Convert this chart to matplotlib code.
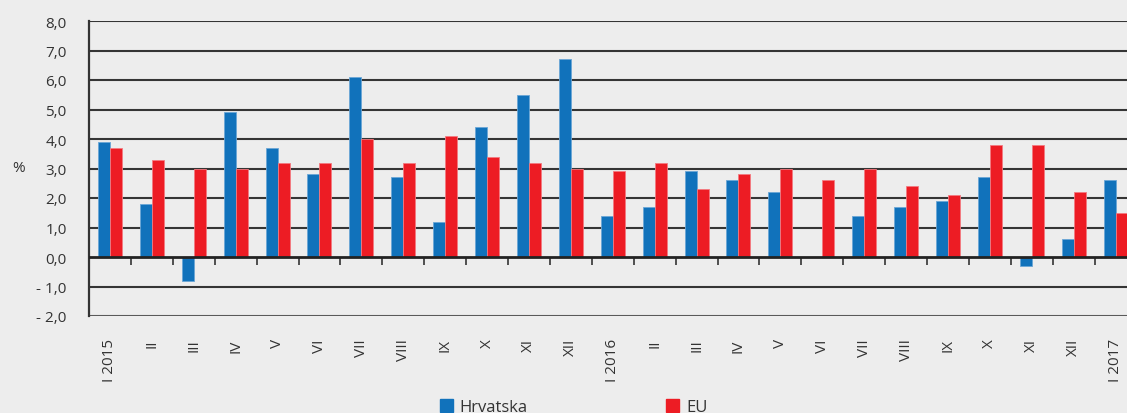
import numpy as np
import matplotlib
matplotlib.use("Agg")
import matplotlib.pyplot as plt
from matplotlib.patches import Patch

plt.rcParams['font.family'] = ['Open Sans', 'DejaVu Sans']

months = ["I 2015", "II", "III", "IV", "V", "VI", "VII", "VIII", "IX", "X", "XI", "XII",
          "I 2016", "II", "III", "IV", "V", "VI", "VII", "VIII", "IX", "X", "XI", "XII",
          "I 2017"]
hrvatska = [3.9, 1.8, -0.8, 4.9, 3.7, 2.8, 6.1, 2.7, 1.2, 4.4, 5.5, 6.7,
            1.4, 1.7, 2.9, 2.6, 2.2, 0.0, 1.4, 1.7, 1.9, 2.7, -0.3, 0.6,
            2.6]
eu = [3.7, 3.3, 3.0, 3.0, 3.2, 3.2, 4.0, 3.2, 4.1, 3.4, 3.2, 3.0,
      2.9, 3.2, 2.3, 2.8, 3.0, 2.6, 3.0, 2.4, 2.1, 3.8, 3.8, 2.2,
      1.5]
yticks = [-2, -1, 0, 1, 2, 3, 4, 5, 6, 7, 8]
ylabels = ["- 2,0", "- 1,0", "0,0", "1,0", "2,0", "3,0", "4,0", "5,0", "6,0", "7,0", "8,0"]

bg = "#ededed"
blue = "#1172bb"
red = "#ed1c24"
txt = "#333333"

fig = plt.figure(figsize=(11.27, 4.14), dpi=100, facecolor=bg)
ax = fig.add_axes([89/1127, 97/414, 1047.5/1127, 295/414], facecolor=bg)

x = np.arange(len(months))
w = 0.286
ax.bar(x - w/2, hrvatska, w, color=blue, edgecolor="#6aa6d6", linewidth=0.6, zorder=3)
ax.bar(x + w/2, eu, w, color=red, edgecolor="#f47a80", linewidth=0.6, zorder=3)

ax.set_xlim(-0.5, len(months) - 0.5)
ax.set_ylim(-2, 8)

# horizontal grid
for v in yticks:
    if v == 0:
        continue
    ax.axhline(v, color="#353535" if v != -2 else "#5a5a5a", lw=1.5, zorder=1)
ax.axhline(0, color="#222222", lw=2.0, zorder=4)

for s in ["top", "right"]:
    ax.spines[s].set_visible(False)
ax.spines["left"].set_color("#333333")
ax.spines["left"].set_linewidth(1.6)
ax.spines["bottom"].set_position(("data", 0))
ax.spines["bottom"].set_visible(False)

ax.set_yticks(yticks)
ax.set_yticklabels(ylabels, fontsize=11, color=txt)
ax.tick_params(axis="y", length=0, pad=16)

# month boundary ticks on the zero line
ax.set_xticks(np.arange(0.5, len(months) - 1, 1.0))
ax.set_xticklabels([])
ax.tick_params(axis="x", direction="out", length=6, width=1.2, color="#333333")

# month labels at the bottom
sec = ax.secondary_xaxis(location=0)
sec.set_xticks(x)
sec.set_xticklabels(months, rotation=90, fontsize=11, color=txt, va="top")
sec.tick_params(length=0, pad=16)
sec.spines["bottom"].set_visible(False)

fig.text(12/1127, 1 - 168/414, "%", fontsize=11, color=txt, va="center", ha="left")

handles = [Patch(color=blue, label="Hrvatska"), Patch(color=red, label="EU")]
fig.legend(handles=handles, loc="center", bbox_to_anchor=(0.5 + 10/1127, 1 - 408/414), ncol=2,
           frameon=False, fontsize=12, handlelength=0.8, handleheight=0.8,
           handletextpad=0.4, columnspacing=8.3, labelcolor=txt)

fig.savefig("out.png", dpi=100, facecolor=bg)
